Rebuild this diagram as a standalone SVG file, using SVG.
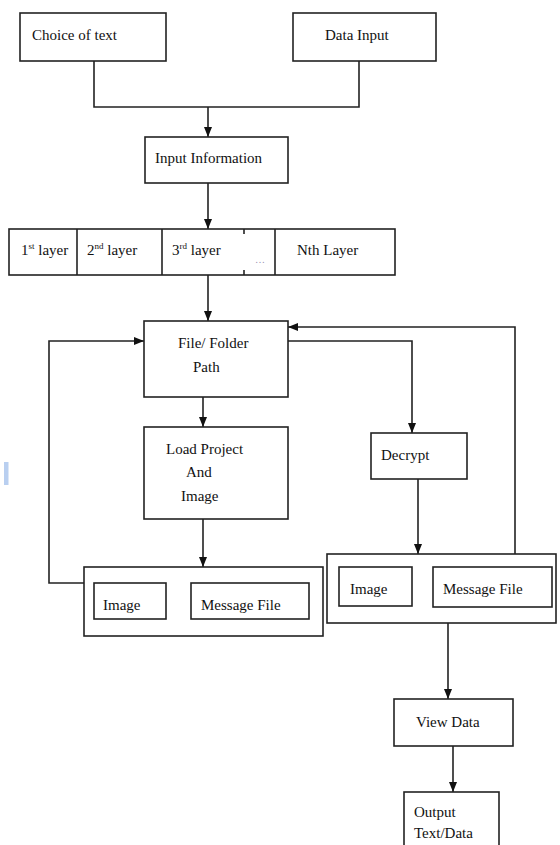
<svg xmlns="http://www.w3.org/2000/svg" width="560" height="845" viewBox="0 0 560 845" font-family="'Liberation Serif', 'DejaVu Serif', serif">
<style>
.box{fill:#fff;stroke:#222;stroke-width:1.6}
.ln{fill:none;stroke:#222;stroke-width:1.6}
.arr{fill:none;stroke:#222;stroke-width:1.6;marker-end:url(#ah)}
text{font-family:'Liberation Serif','DejaVu Serif',serif;font-size:15px;fill:#111}
.sup{font-size:9px}
</style>
<defs>
<marker id="ah" markerUnits="userSpaceOnUse" markerWidth="10" markerHeight="10" viewBox="0 0 10 10" refX="10" refY="5" orient="auto">
<path d="M0,1 L10,5 L0,9 Z" fill="#111"/>
</marker>
</defs>
<rect x="4" y="462" width="4.5" height="23" fill="#b9cff0"/>
<g id="connectors">
<polyline class="ln" points="94,61 94,107 359,107 359,61"/>
<line class="arr" x1="208" y1="107" x2="208" y2="137"/>
<line class="arr" x1="208" y1="183" x2="208" y2="229"/>
<line class="arr" x1="208" y1="275" x2="208" y2="321"/>
<line class="arr" x1="203" y1="397" x2="203" y2="427"/>
<line class="arr" x1="203" y1="519" x2="203" y2="567"/>
<polyline class="arr" points="84,583 49,583 49,341 144,341"/>
<polyline class="arr" points="288,341 412,341 412,433"/>
<line class="arr" x1="418" y1="479" x2="418" y2="554"/>
<polyline class="arr" points="515,554 515,327 288,327"/>
<line class="arr" x1="448" y1="623" x2="448" y2="699"/>
<line class="arr" x1="453" y1="746" x2="453" y2="792"/>
</g>
<g id="choice"><rect class="box" x="20" y="13" width="146" height="48"/><text x="32" y="40">Choice of text</text></g>
<g id="datainput"><rect class="box" x="293" y="13" width="143" height="48"/><text x="325" y="40">Data Input</text></g>
<g id="inputinfo"><rect class="box" x="145" y="137" width="143" height="46"/><text x="155" y="163">Input Information</text></g>
<g id="layers">
<rect class="box" x="9" y="229" width="386" height="46"/>
<line class="ln" x1="77" y1="229" x2="77" y2="275"/>
<line class="ln" x1="162" y1="229" x2="162" y2="275"/>
<line class="ln" x1="275" y1="229" x2="275" y2="275"/>
<line class="ln" x1="244" y1="229" x2="244" y2="234"/>
<line class="ln" x1="244" y1="270" x2="244" y2="275"/>
<text x="21" y="255">1<tspan class="sup" dy="-6">st</tspan><tspan dy="6"> layer</tspan></text>
<text x="87" y="255">2<tspan class="sup" dy="-6">nd</tspan><tspan dy="6"> layer</tspan></text>
<text x="172" y="255">3<tspan class="sup" dy="-6">rd</tspan><tspan dy="6"> layer</tspan></text>
<text x="255" y="263" style="font-size:10px;fill:#9a8fb0">…</text>
<text x="297" y="255">Nth Layer</text>
</g>
<g id="filefolder"><rect class="box" x="144" y="321" width="144" height="76"/><text x="178" y="348">File/ Folder</text><text x="193" y="372">Path</text></g>
<g id="loadproject"><rect class="box" x="144" y="427" width="144" height="92"/><text x="166" y="454">Load Project</text><text x="186" y="477">And</text><text x="181" y="501">Image</text></g>
<g id="decrypt"><rect class="box" x="371" y="433" width="96" height="46"/><text x="381" y="460">Decrypt</text></g>
<g id="leftgroup">
<rect class="box" x="84" y="567" width="239" height="69"/>
<rect class="box" x="94" y="583" width="72" height="36"/><text x="103" y="610">Image</text>
<rect class="box" x="191" y="583" width="118" height="36"/><text x="201" y="610">Message File</text>
</g>
<g id="rightgroup">
<rect class="box" x="327" y="554" width="229" height="69"/>
<rect class="box" x="339" y="567" width="73" height="39"/><text x="350" y="594">Image</text>
<rect class="box" x="433" y="567" width="119" height="40"/><text x="443" y="594">Message File</text>
</g>
<g id="viewdata"><rect class="box" x="394" y="699" width="119" height="47"/><text x="416" y="727">View Data</text></g>
<g id="output"><rect class="box" x="404" y="792" width="95" height="60"/><text x="414" y="817">Output</text><text x="414" y="838">Text/Data</text></g>
</svg>
